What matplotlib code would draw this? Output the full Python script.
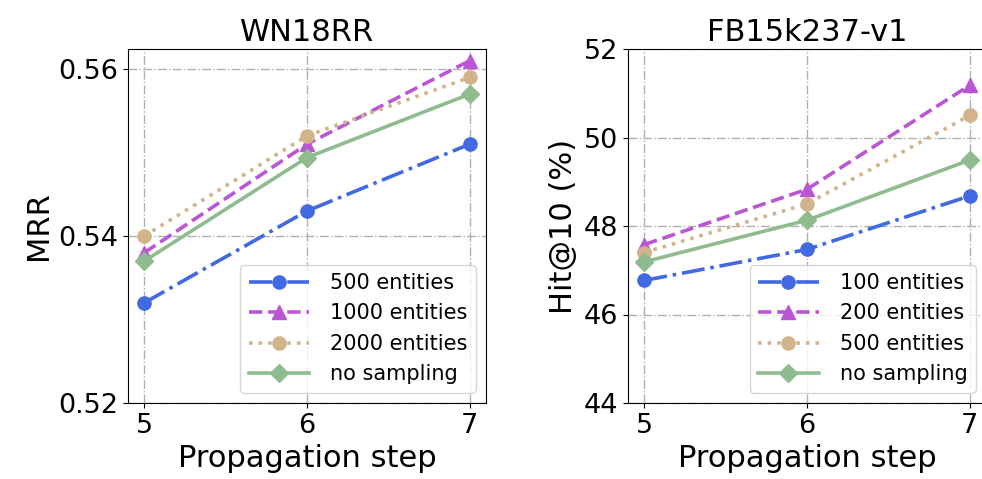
import matplotlib
matplotlib.use('Agg')
import matplotlib.pyplot as plt

steps = [5, 6, 7]

# WN18RR, MRR
wn_labels = ['500 entities', '1000 entities', '2000 entities', 'no sampling']
wn_500 = [0.532, 0.543, 0.551]
wn_1000 = [0.538, 0.551, 0.561]
wn_2000 = [0.540, 0.552, 0.559]
wn_full = [0.537, 0.5494, 0.557]

# FB15k237-v1, Hit@10 (%)
fb_labels = ['100 entities', '200 entities', '500 entities', 'no sampling']
fb_100 = [46.77, 47.47, 48.68]
fb_200 = [47.58, 48.83, 51.18]
fb_500 = [47.40, 48.50, 50.50]
fb_full = [47.19, 48.13, 49.49]

colors = ['royalblue', 'mediumorchid', 'tan', 'darkseagreen']
styles = ['-.', '--', ':', '-']
markers = ['o', '^', 'o', 'D']

fig = plt.figure(figsize=(9.82, 4.79), dpi=100)
ax1 = fig.add_axes([128/982, 76/479, 358/982, 354/479])
ax2 = fig.add_axes([628/982, 76/479, 358/982, 354/479])

def draw(ax, series, labels):
    for vals, lab, c, ls, m in zip(series, labels, colors, styles, markers):
        ax.plot(steps, vals, color=c, linestyle=ls, marker=m, lw=2.6,
                markersize=9.5 if m != 'D' else 9, label=lab)
    ax.grid(True, linestyle='-.', color='#b0b0b0', lw=1)
    ax.set_axisbelow(True)
    ax.set_xlim(4.9, 7.1)
    ax.set_xticks(steps)
    ax.tick_params(labelsize=19.5)
    ax.set_xlabel('Propagation step', fontsize=22)
    ax.legend(loc='lower right', fontsize=15, handlelength=2.9, handletextpad=1.0)

draw(ax1, [wn_500, wn_1000, wn_2000, wn_full], wn_labels)
ax1.set_ylim(0.52, 0.5624)
ax1.set_yticks([0.52, 0.54, 0.56])
ax1.set_ylabel('MRR', fontsize=22)
ax1.set_title('WN18RR', fontsize=22)

draw(ax2, [fb_100, fb_200, fb_500, fb_full], fb_labels)
ax2.set_ylim(44, 52)
ax2.set_yticks([44, 46, 48, 50, 52])
ax2.set_ylabel('Hit@10 (%)', fontsize=22)
ax2.set_title('FB15k237-v1', fontsize=22)

fig.savefig('out.png', dpi=100)
